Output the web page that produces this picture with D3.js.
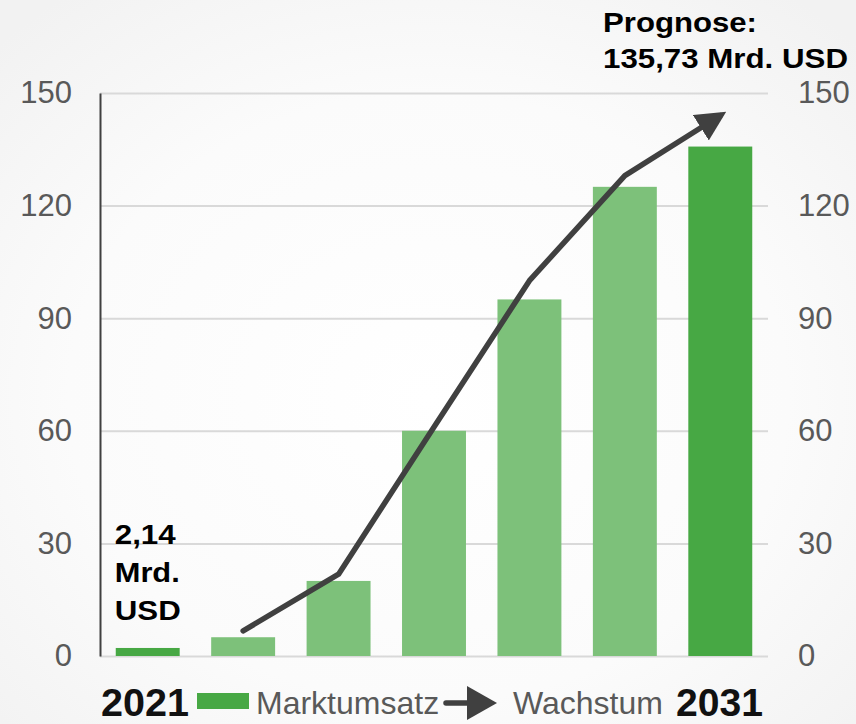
<!DOCTYPE html>
<html>
<head>
<meta charset="utf-8">
<script src="https://cdn.jsdelivr.net/npm/d3@7"></script>
<style>
  html, body { margin: 0; padding: 0; background: #fff; }
  svg { display: block; font-family: "Liberation Sans", Arial, sans-serif; }
</style>
</head>
<body>
<div id="chart"></div>
<script>
// chart values
var categories = ["2021", "b2", "b3", "b4", "b5", "b6", "2031"];
var marketValues = [2.14, 5, 20, 60, 95, 125, 135.73];
var highlightBars = ["2021", "2031"];
var growthCategories = ["b2", "b3", "b4", "b5", "b6", "2031"];
var growthValues = [6.7, 21.8, 61, 100, 128, 144];
var tickValues = [0, 30, 60, 90, 120, 150];
var startLabel = ["2,14", "Mrd.", "USD"];
var endLabel = ["Prognose:", "135,73 Mrd. USD"];
var legendLabels = ["Marktumsatz", "Wachstum"];
var yearLabels = ["2021", "2031"];

var W = 856, H = 724;
var margin = {top: 93, right: 88, bottom: 68, left: 100};
var width = W - margin.left - margin.right,
    height = H - margin.top - margin.bottom;

var svg = d3.select("#chart").append("svg")
    .attr("width", W)
    .attr("height", H);

// soft grey background with a lighter middle
var defs = svg.append("defs");
var grad = defs.append("radialGradient")
    .attr("id", "bg")
    .attr("cx", "50%").attr("cy", "55%").attr("r", "70%");
grad.append("stop").attr("offset", "0%").attr("stop-color", "#ffffff");
grad.append("stop").attr("offset", "60%").attr("stop-color", "#fbfbfb");
grad.append("stop").attr("offset", "100%").attr("stop-color", "#f2f2f2");
svg.append("rect").attr("width", W).attr("height", H).attr("fill", "url(#bg)");

function arrowMarker(id, w, h, refX) {
  defs.append("marker")
      .attr("id", id)
      .attr("markerUnits", "userSpaceOnUse")
      .attr("viewBox", "0 0 " + w + " " + h)
      .attr("markerWidth", w)
      .attr("markerHeight", h)
      .attr("refX", refX)
      .attr("refY", h / 2)
      .attr("orient", "auto")
    .append("path")
      .attr("d", "M0,0 L" + w + "," + (h / 2) + " L0," + h + " Z")
      .attr("fill", "#404040");
}
arrowMarker("arrow", 30, 30, 23);
arrowMarker("arrowLegend", 30, 34, 7);

var g = svg.append("g")
    .attr("transform", "translate(" + margin.left + "," + margin.top + ")");

var x = d3.scaleBand()
    .domain(categories)
    .range([0, width])
    .paddingInner(0.33)
    .paddingOuter(0.165);

var y = d3.scaleLinear()
    .domain([0, 150])
    .range([height, 0]);

// gridlines
g.append("g")
    .attr("class", "grid")
    .call(d3.axisLeft(y).tickValues(tickValues).tickSize(-width).tickFormat(""))
    .call(function(s) { s.select(".domain").remove(); })
    .selectAll("line")
    .attr("stroke", "#d9d9d9")
    .attr("stroke-width", 2);

// left axis
var left = g.append("g")
    .call(d3.axisLeft(y).tickValues(tickValues).tickSize(0).tickPadding(28));
left.select(".domain").attr("stroke", "#404040").attr("stroke-width", 2);
left.selectAll("text")
    .attr("fill", "#595959")
    .style("font-size", "31px")
    .style("font-family", "Liberation Sans, Arial, sans-serif");

// right axis
var right = g.append("g")
    .attr("transform", "translate(" + width + ",0)")
    .call(d3.axisRight(y).tickValues(tickValues).tickSize(0).tickPadding(30));
right.select(".domain").remove();
right.selectAll("text")
    .attr("fill", "#595959")
    .style("font-size", "31px")
    .style("font-family", "Liberation Sans, Arial, sans-serif");

// bars
g.selectAll(".bar")
    .data(categories)
    .enter()
    .append("rect")
    .attr("class", "bar")
    .attr("x", function(d) { return x(d); })
    .attr("y", function(d, i) { return y(marketValues[i]); })
    .attr("width", x.bandwidth())
    .attr("height", function(d, i) { return height - y(marketValues[i]); })
    .attr("fill", function(d) { return highlightBars.indexOf(d) >= 0 ? "#47a844" : "#7dc17a"; });

// growth line with arrow
var line = d3.line()
    .x(function(d) { return x(d) + x.bandwidth() / 2; })
    .y(function(d, i) { return y(growthValues[i]); });

g.append("path")
    .datum(growthCategories)
    .attr("d", line)
    .attr("fill", "none")
    .attr("stroke", "#404040")
    .attr("stroke-width", 5.5)
    .attr("stroke-linecap", "round")
    .attr("stroke-linejoin", "round")
    .attr("marker-end", "url(#arrow)");

// bold value labels (stretched a bit, like the original)
var startWidths = [61, 65, 66];
startLabel.forEach(function(t, i) {
  g.append("text")
      .attr("x", x("2021") - 1)
      .attr("y", y(30) + 1 + i * 38)
      .attr("font-size", "28px")
      .attr("font-weight", "bold")
      .attr("fill", "#000")
      .attr("textLength", startWidths[i])
      .attr("lengthAdjust", "spacingAndGlyphs")
      .text(t);
});

var endWidths = [154, 245];
endLabel.forEach(function(t, i) {
  svg.append("text")
      .attr("x", 603)
      .attr("y", 32 + i * 36)
      .attr("font-size", "28px")
      .attr("font-weight", "bold")
      .attr("fill", "#000")
      .attr("textLength", endWidths[i])
      .attr("lengthAdjust", "spacingAndGlyphs")
      .text(t);
});

// bottom row: years and legend
svg.append("text")
    .attr("x", 101).attr("y", 716)
    .attr("font-size", "38px").attr("font-weight", "bold").attr("fill", "#111")
    .attr("textLength", 88).attr("lengthAdjust", "spacingAndGlyphs")
    .text(yearLabels[0]);
svg.append("text")
    .attr("x", 676).attr("y", 716)
    .attr("font-size", "38px").attr("font-weight", "bold").attr("fill", "#111")
    .attr("textLength", 87).attr("lengthAdjust", "spacingAndGlyphs")
    .text(yearLabels[1]);

svg.append("rect")
    .attr("x", 197).attr("y", 693)
    .attr("width", 52).attr("height", 16)
    .attr("fill", "#47a844");
svg.append("text")
    .attr("x", 256).attr("y", 714)
    .attr("font-size", "32px").attr("fill", "#595959")
    .text(legendLabels[0]);

svg.append("line")
    .attr("x1", 446).attr("y1", 703)
    .attr("x2", 474).attr("y2", 703)
    .attr("stroke", "#404040")
    .attr("stroke-width", 5.5)
    .attr("stroke-linecap", "round")
    .attr("marker-end", "url(#arrowLegend)");
svg.append("text")
    .attr("x", 513).attr("y", 714)
    .attr("font-size", "32px").attr("fill", "#595959")
    .text(legendLabels[1]);
</script>
</body>
</html>
